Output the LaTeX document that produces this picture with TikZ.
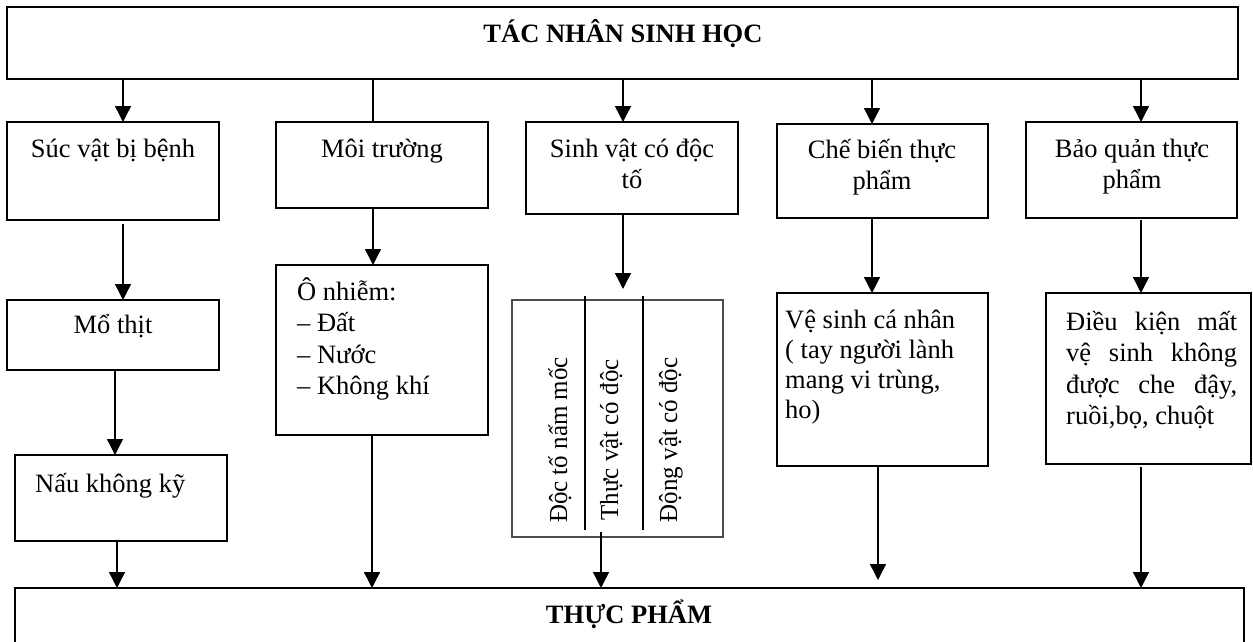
\documentclass[tikz,border=0pt]{standalone}
\usepackage{fontspec}
\setmainfont{Liberation Serif}
\usetikzlibrary{arrows.meta,fit}
\tikzset{
  box/.style={draw, line width=1.4pt, inner sep=0pt, outer sep=0pt},
  tbox/.style={draw=black!70, line width=2.2pt, inner sep=0pt, outer sep=0pt},
  arr/.style={line width=1.4pt, -{Triangle[length=16pt,width=16pt]}},
  plain/.style={line width=1.4pt},
  txt/.style={inner sep=0pt, font=\fontsize{26.5}{31.5}\selectfont},
  rtxt/.style={inner sep=0pt, rotate=90, anchor=base, font=\fontsize{26}{28}\selectfont}
}
\begin{document}
\begin{tikzpicture}[x=1pt,y=-1pt]
\clip (0,0) rectangle (1253,642);
\fill[white] (0,0) rectangle (1253,642);
% boxes
\node[box, fit={(7,7)(1238,79)}] (top) {};
\node[box, fit={(15,588)(1244,662)}] (tp) {};
\node[box, fit={(7,122)(219,220)}] (suc) {};
\node[box, fit={(7,300)(219,370)}] (mo) {};
\node[box, fit={(15,455)(227,541)}] (nau) {};
\node[box, fit={(276,122)(488,208)}] (moi) {};
\node[box, fit={(276,265)(488,435)}] (onh) {};
\node[box, fit={(526,122)(738,214)}] (sinh) {};
\node[tbox, fit={(512,300)(723,537)}] (tab) {};
\node[box, fit={(777,124)(988,218)}] (che) {};
\node[box, fit={(777,293)(988,466)}] (ves) {};
\node[box, fit={(1026,122)(1237,218)}] (bao) {};
\node[box, fit={(1046,293)(1251,464)}] (dk) {};
% table inner lines
\draw[line width=1.4pt] (585,296) -- (585,530);
\draw[line width=1.4pt] (643,296) -- (643,530);
% texts (multi-line nodes are anchored at the baseline of their last line)
\node[txt, anchor=base] (t0) at (623,43) {\bfseries TÁC NHÂN SINH HỌC};
\node[txt, anchor=base] (t9) at (629,623) {\bfseries THỰC PHẨM};
\node[txt, anchor=base] (t1) at (113,157) {Súc vật bị bệnh};
\node[txt, anchor=base] (t2) at (382,157) {Môi trường};
\node[txt, anchor=base, align=center] (t3) at (632,188.5) {Sinh vật có độc\\tố};
\node[txt, anchor=base, align=center] (t4) at (882,189.5) {Chế biến thực\\phẩm};
\node[txt, anchor=base, align=center] (t5) at (1132,188.5) {Bảo quản thực\\phẩm};
\node[txt, anchor=base] (t6) at (113,333) {Mổ thịt};
\node[txt, anchor=base west] (t7) at (35,492) {Nấu không kỹ};
\node[txt, anchor=base west, align=left] (t8) at (297,394.5) {Ô nhiễm:\\– Đất\\– Nước\\– Không khí};
\node[txt, anchor=base west, align=left, font=\fontsize{26.5}{30}\selectfont] (t10) at (785,418) {Vệ sinh cá nhân\\( tay người lành\\mang vi trùng,\\ho)};
\node[txt, anchor=base west, text width=171pt, align=justify] (t11) at (1066,330) {Điều kiện mất\linebreak vệ sinh không\linebreak được che đậy,\linebreak ruồi,bọ, chuột};
\node[rtxt] (r1) at (567,440) {\scalebox{0.96}[1]{Độc tố nấm mốc}};
\node[rtxt] (r2) at (618,440) {\scalebox{0.96}[1]{Thực vật có độc}};
\node[rtxt] (r3) at (677,440) {\scalebox{0.96}[1]{Động vật có độc}};
% column coordinates
\coordinate (xa) at (123,0);
\coordinate (xb) at (115,0);
\coordinate (xc) at (117,0);
\coordinate (xd) at (373,0);
\coordinate (xe) at (372,0);
\coordinate (xf) at (623,0);
\coordinate (xg) at (601,0);
\coordinate (xh) at (872,0);
\coordinate (xi) at (878,0);
\coordinate (xj) at (1141,0);
% connectors
\draw[arr] (top.south -| xa) -- (suc.north -| xa);
\draw[plain] (top.south -| xd) -- (moi.north -| xd);
\draw[arr] (top.south -| xf) -- (sinh.north -| xf);
\draw[arr] (top.south -| xh) -- (che.north -| xh);
\draw[arr] (top.south -| xj) -- (bao.north -| xj);
\draw[arr, shorten <=4pt] (suc.south -| xa) -- (mo.north -| xa);
\draw[arr] (mo.south -| xb) -- (nau.north -| xb);
\draw[arr] (nau.south -| xc) -- (tp.north -| xc);
\draw[arr] (moi.south -| xd) -- (onh.north -| xd);
\draw[arr] (onh.south -| xe) -- (tp.north -| xe);
\draw[arr, shorten >=11pt] (sinh.south -| xf) -- (tab.north -| xf);
\draw[arr, shorten <=-5pt] (tab.south -| xg) -- (tp.north -| xg);
\draw[arr] (che.south -| xh) -- (ves.north -| xh);
\draw[arr, shorten >=8pt] (ves.south -| xi) -- (tp.north -| xi);
\draw[arr, shorten <=2pt] (bao.south -| xj) -- (dk.north -| xj);
\draw[arr, shorten <=3pt] (dk.south -| xj) -- (tp.north -| xj);
\end{tikzpicture}
\end{document}
